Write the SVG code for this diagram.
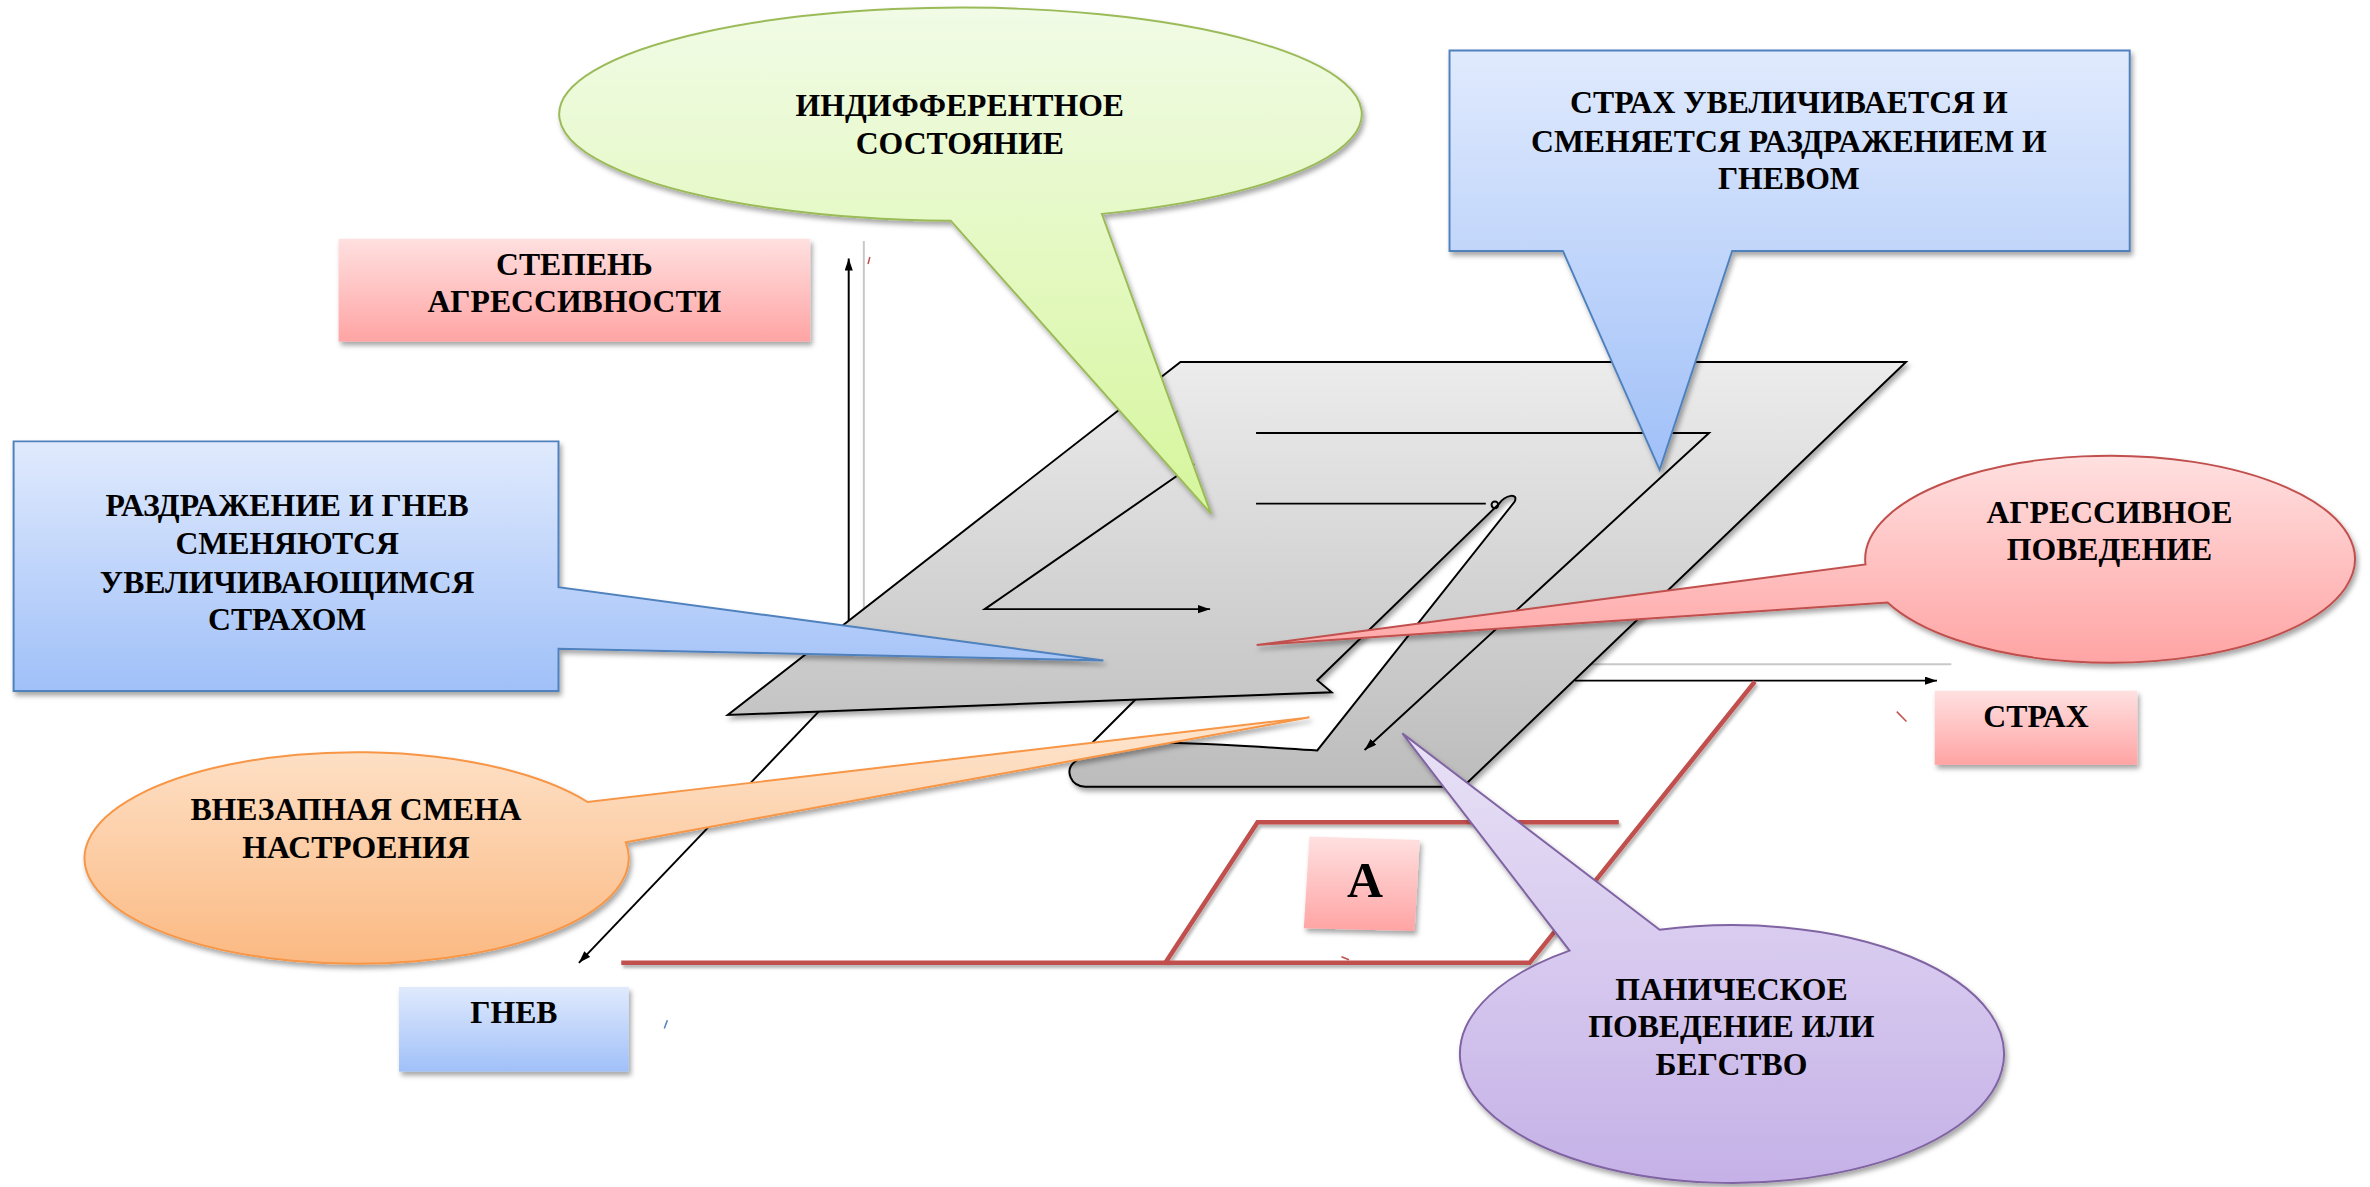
<svg xmlns="http://www.w3.org/2000/svg" width="2370" height="1187" viewBox="0 0 2370 1187">
<style>
.t{font-family:"Liberation Serif","Times New Roman",serif;font-weight:bold;font-size:21px;text-anchor:middle;fill:#000}
.ln{stroke:#000;stroke-width:1.3;fill:none}
.gl{stroke:#c8c8c8;stroke-width:1.3;fill:none}
.red{stroke:#c0504d;stroke-width:3;fill:none}
.tick{stroke-width:1;fill:none}
</style>
<defs>
<linearGradient id="gPink" x1="0" y1="0" x2="0" y2="1"><stop offset="0" stop-color="#ffe0e0"/><stop offset="1" stop-color="#ffa4a4"/></linearGradient>
<linearGradient id="gBlue" x1="0" y1="0" x2="0" y2="1"><stop offset="0" stop-color="#e0eafd"/><stop offset="1" stop-color="#a0c0f8"/></linearGradient>
<linearGradient id="gGreen" x1="0" y1="0" x2="0" y2="1"><stop offset="0" stop-color="#f1fbe6"/><stop offset="1" stop-color="#d6f69c"/></linearGradient>
<linearGradient id="gOrange" x1="0" y1="0" x2="0" y2="1"><stop offset="0" stop-color="#fee6d0"/><stop offset="1" stop-color="#fbb982"/></linearGradient>
<linearGradient id="gPurple" x1="0" y1="0" x2="0" y2="1"><stop offset="0" stop-color="#e8e1f6"/><stop offset="1" stop-color="#c5b1e7"/></linearGradient>
<linearGradient id="gGray" gradientUnits="userSpaceOnUse" x1="0" y1="240" x2="0" y2="521"><stop offset="0" stop-color="#ececec"/><stop offset="1" stop-color="#bcbcbc"/></linearGradient>
<filter id="sh" x="-10%" y="-10%" width="125%" height="130%"><feDropShadow dx="1.5" dy="2.5" stdDeviation="1.8" flood-color="#000" flood-opacity="0.35"/></filter>
<filter id="shl" filterUnits="userSpaceOnUse" x="0" y="0" width="1568" height="785"><feDropShadow dx="1.2" dy="2" stdDeviation="1.2" flood-color="#000" flood-opacity="0.3"/></filter>
<marker id="ah" markerUnits="userSpaceOnUse" markerWidth="9" markerHeight="6" refX="8" refY="2.7" orient="auto"><path d="M0,0 L8,2.7 L0,5.4 Z" fill="#000"/></marker>
</defs>
<rect width="2370" height="1187" fill="#fff"/>
<g transform="scale(1.5115)">
<g id="connectors">
<line class="gl" x1="571.5" y1="159.5" x2="571.5" y2="450"/>
<line class="gl" x1="1052" y1="439.5" x2="1291" y2="439.5"/>
<line class="ln" x1="561.5" y1="450" x2="561.5" y2="171" marker-end="url(#ah)"/>
<line class="ln" x1="1042" y1="450.3" x2="1281.5" y2="450.3" marker-end="url(#ah)"/>
<line class="ln" x1="561.5" y1="450" x2="383" y2="637" marker-end="url(#ah)"/>
<line class="ln" x1="762" y1="452" x2="716" y2="498"/>
</g>
<g id="plane">
<path d="M781,239.5 L1261,239.5 L968,520.5 L718,520.5 C708,520 705,510 710,505 C714,500 725,493 760,491.5 C790,491 830,494 871.5,496.5 L1002,332 C1005,326 996,327 991.5,333.5 L871.5,450 L881,458 L481.5,473 Z" fill="url(#gGray)" stroke="#000" stroke-width="1.3" stroke-linejoin="miter" filter="url(#sh)"/>
<path class="ln" d="M790,307 L651.5,403 H800.6" marker-end="url(#ah)"/>
<path class="ln" d="M831,286.5 H1130.7 L902.8,496.2" marker-end="url(#ah)"/>
<line class="ln" x1="831" y1="333.2" x2="983" y2="333.2"/>
<circle cx="989" cy="334" r="2.2" class="ln" stroke-width="1"/>
</g>
<g id="region-a-outline" filter="url(#shl)">
<path class="red" d="M411,637 H1012 L1161,451"/>
<path class="red" d="M771,637 L832,544 H1071"/>
</g>
<g id="ticks">
<line class="tick" stroke="#c0504d" x1="575.5" y1="170" x2="574.3" y2="174.7"/>
<line class="tick" stroke="#c0504d" x1="1254.9" y1="470.8" x2="1261.3" y2="477.4"/>
<line class="tick" stroke="#4f81bd" x1="441.5" y1="675" x2="439.5" y2="680.5"/>
<path class="tick" stroke="#c0504d" d="M887.5,633 L892.5,635"/>
</g>
<g id="node-stepen">
<rect x="224" y="158" width="312" height="68" fill="url(#gPink)" filter="url(#sh)"/>
<text class="t" x="380" y="182">СТЕПЕНЬ</text>
<text class="t" x="380" y="206.7">АГРЕССИВНОСТИ</text>
</g>
<g id="node-strah">
<rect x="1280" y="457" width="134" height="49" fill="url(#gPink)" filter="url(#sh)"/>
<text class="t" x="1347" y="481">СТРАХ</text>
</g>
<g id="node-gnev">
<rect x="264" y="653" width="152" height="56" fill="url(#gBlue)" filter="url(#sh)"/>
<text class="t" x="340" y="677">ГНЕВ</text>
</g>
<g id="node-a">
<polygon points="866.4,553.5 939.3,555.7 935.9,616 862.6,614.2" fill="url(#gPink)" filter="url(#sh)"/>
<text class="t" x="903" y="593.5" style="font-size:33px">А</text>
</g>
<g id="callout-indifferent">
<path d="M729,141.5 A265.5 70.5 0 1 0 629,146 L801.3,340 Z" fill="url(#gGreen)" stroke="#9bbb59" stroke-width="1.3" filter="url(#sh)"/>
<text class="t" x="635" y="77">ИНДИФФЕРЕНТНОЕ</text>
<text class="t" x="635" y="101.6">СОСТОЯНИЕ</text>
</g>
<g id="callout-fear-increases">
<path d="M959,33.4 H1409 V166 H1146 L1098,310.8 L1034,166 H959 Z" fill="url(#gBlue)" stroke="#4f81bd" stroke-width="1.3" filter="url(#sh)"/>
<text class="t" x="1183.5" y="74.6">СТРАХ УВЕЛИЧИВАЕТСЯ И</text>
<text class="t" x="1183.5" y="100.3">СМЕНЯЕТСЯ РАЗДРАЖЕНИЕМ И</text>
<text class="t" x="1183.5" y="125">ГНЕВОМ</text>
</g>
<g id="callout-irritation">
<path d="M9,292 H369.5 V388.5 L730,437 L369.5,429.2 V457.2 H9 Z" fill="url(#gBlue)" stroke="#4f81bd" stroke-width="1.3" filter="url(#sh)"/>
<text class="t" x="190" y="341.2">РАЗДРАЖЕНИЕ И ГНЕВ</text>
<text class="t" x="190" y="366.5">СМЕНЯЮТСЯ</text>
<text class="t" x="190" y="392.4">УВЕЛИЧИВАЮЩИМСЯ</text>
<text class="t" x="190" y="417">СТРАХОМ</text>
</g>
<g id="callout-aggressive">
<path d="M1234.2,373.4 A162 68.5 0 1 1 1248.8,398.6 L831.4,426.7 Z" fill="url(#gPink)" stroke="#c0504d" stroke-width="1.3" filter="url(#sh)"/>
<text class="t" x="1395.6" y="346">АГРЕССИВНОЕ</text>
<text class="t" x="1395.6" y="370.8">ПОВЕДЕНИЕ</text>
</g>
<g id="callout-mood-change">
<path d="M414,557.3 A180 70 0 1 1 388.7,530.6 L866.3,474.6 Z" fill="url(#gOrange)" stroke="#f79646" stroke-width="1.3" filter="url(#sh)"/>
<text class="t" x="235.5" y="542.5">ВНЕЗАПНАЯ СМЕНА</text>
<text class="t" x="235.5" y="567.7">НАСТРОЕНИЯ</text>
</g>
<g id="callout-panic">
<path d="M1098,615.1 A180 85.3 0 1 1 1038.4,628.9 L927.8,485.2 Z" fill="url(#gPurple)" stroke="#8064a2" stroke-width="1.3" filter="url(#sh)"/>
<text class="t" x="1145.5" y="661.6">ПАНИЧЕСКОЕ</text>
<text class="t" x="1145.5" y="686.3">ПОВЕДЕНИЕ ИЛИ</text>
<text class="t" x="1145.5" y="711.2">БЕГСТВО</text>
</g>
</g>
</svg>
